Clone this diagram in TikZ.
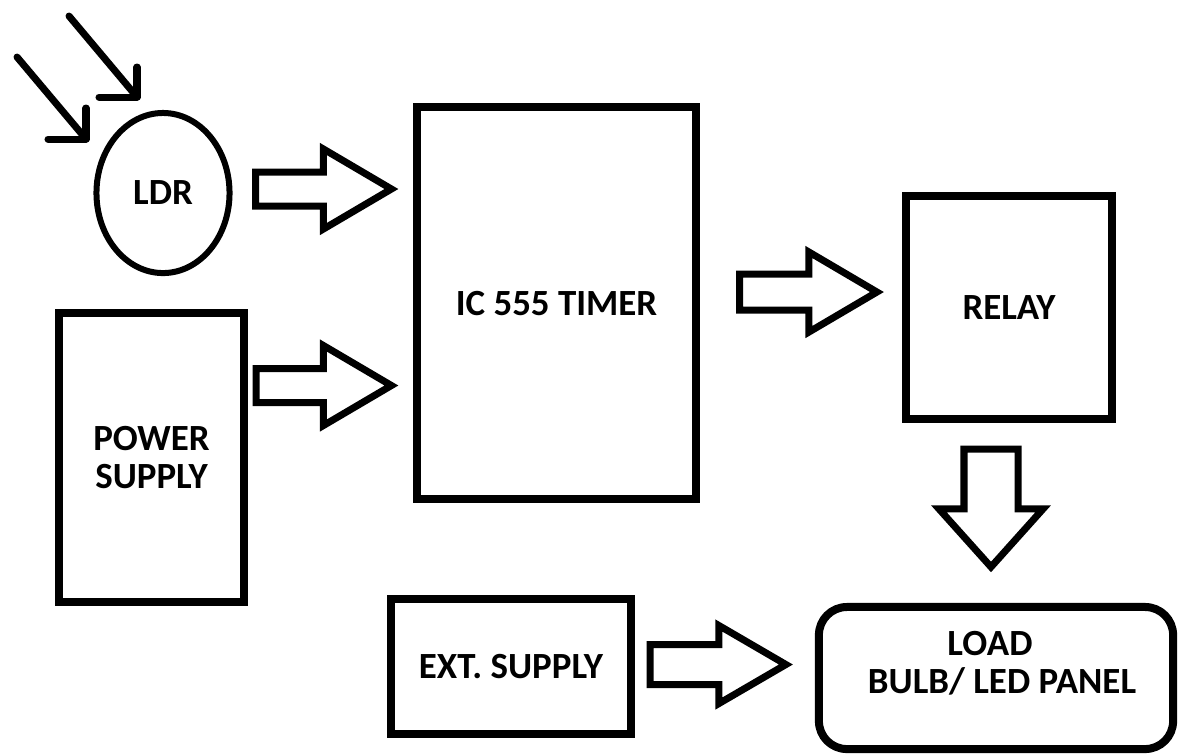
\documentclass[tikz,border=0pt]{standalone}
\usepackage{fontspec}
\setmainfont{Carlito}
\usepackage{tikz}
\usetikzlibrary{calc,shapes.geometric}

\newcommand{\blockarrow}[5]{%
  \coordinate (ba) at ($(#2)!#5!(#1)$);
  \draw[blockline] ($(#1)!#3!90:(#2)$) -- ($(ba)!#3!90:(#2)$) -- ($(ba)!#4!90:(#2)$) -- (#2)
    -- ($(ba)!#4!-90:(#2)$) -- ($(ba)!#3!-90:(#2)$) -- ($(#1)!#3!-90:(#2)$) -- cycle;}

\begin{document}
\begin{tikzpicture}[x=0.01cm,y=-0.01cm,
  lbl/.style={font=\bfseries\fontsize{10.5}{10.9}\selectfont,align=center},
  box/.style={draw,lbl,line width=0.08cm,inner sep=0pt,outer sep=0pt},
  blockline/.style={line width=0.07cm,line join=miter},
  ray/.style={line width=0.07cm,line cap=round,line join=round}]
\useasboundingbox (0,0) rectangle (1179,753);

\node[box,ellipse,line width=0.06cm,minimum width=1.33cm,minimum height=1.6cm] (ldr) at (163,193) {LDR};
\node[box,minimum width=2.78cm,minimum height=3.91cm] (ic) at (556.5,303) {IC 555 TIMER};
\node[box,minimum width=1.85cm,minimum height=2.89cm] (power) at (151.5,457.5) {POWER\\SUPPLY};
\node[box,minimum width=2.06cm,minimum height=2.23cm] (relay) at (1009,307.5) {RELAY};
\node[box,minimum width=2.4cm,minimum height=1.35cm] (ext) at (511,666.5) {EXT. SUPPLY};
\node[box,rounded corners=0.28cm,minimum width=3.54cm,minimum height=1.42cm] (load) at (996,678) {};
\node[lbl] (loadtxt) at ($(load.center)+(6,-15)$) {LOAD\hspace*{0.24cm}\\BULB/ LED PANEL};

\draw[ray] (17,57) -- (86,139);
\draw[ray] (48,139) -- (86,139) -- (86,108);
\draw[ray] (69,16) -- (137,97);
\draw[ray] (99,97) -- (137,97) -- (137,67);

\coordinate (ldrout) at ($(ldr.east)+(26,-4)$);
\coordinate (icin1) at ($(ic.west|-ldrout)+(-26,0)$);
\blockarrow{ldrout}{icin1}{0.17cm}{0.40cm}{0.68cm}
\coordinate (pwrout) at ($(power.east)+(12,-72)$);
\coordinate (icin2) at ($(ic.west|-pwrout)+(-26,0)$);
\blockarrow{pwrout}{icin2}{0.17cm}{0.40cm}{0.68cm}
\coordinate (icout) at ($(ic.east)+(44,-11)$);
\coordinate (relayin) at ($(relay.west|-icout)+(-29,0)$);
\blockarrow{icout}{relayin}{0.18cm}{0.40cm}{0.68cm}
\coordinate (relayout) at ($(relay.south)+(-18,30)$);
\coordinate (loadtop) at ($(relayout|-load.north)+(0,-40)$);
\blockarrow{relayout}{loadtop}{0.27cm}{0.52cm}{0.58cm}
\coordinate (extout) at ($(ext.east)+(19,-2)$);
\coordinate (loadin) at ($(load.west|-extout)+(-33,0)$);
\blockarrow{extout}{loadin}{0.20cm}{0.39cm}{0.67cm}
\end{tikzpicture}
\end{document}
